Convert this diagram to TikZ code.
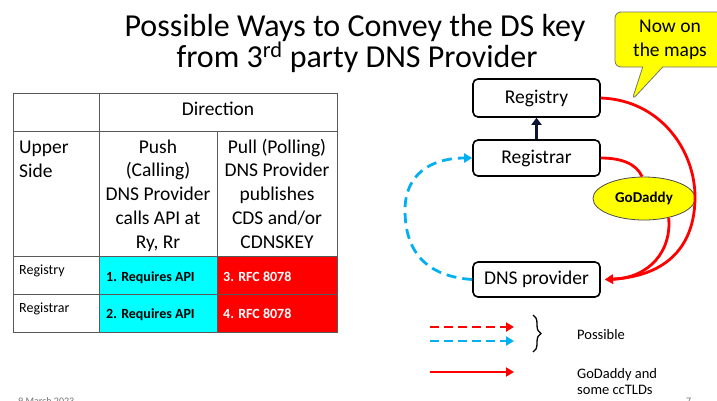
\documentclass[tikz,border=0pt]{standalone}
\usepackage{fontspec}
\setmainfont{Carlito}
\usetikzlibrary{arrows.meta,shapes.geometric,shapes.callouts,decorations.pathreplacing}
\definecolor{skyb}{RGB}{0,176,240}
\definecolor{navyc}{RGB}{12,22,50}
\definecolor{cyanc}{RGB}{0,255,255}
\definecolor{redc}{RGB}{255,0,0}
\definecolor{yelc}{RGB}{255,255,0}
\tikzset{
  titlef/.style={font=\fontsize{32}{34}\selectfont, inner sep=0},
  big/.style={font=\fontsize{19.5}{23.7}\selectfont, inner sep=0},
  sm/.style={font=\fontsize{14}{16}\selectfont, inner sep=0},
  smb/.style={font=\bfseries\fontsize{14}{16}\selectfont, inner sep=0},
  tline/.style={draw=black!65, line width=0.9pt},
  rbox/.style={draw, line width=1.6pt, rounded corners=5pt, minimum width=127pt, inner sep=0, font=\fontsize{19.5}{22}\selectfont},
  redline/.style={draw=redc, line width=2.8pt},
  bluedash/.style={draw=skyb, line width=2.8pt, dash pattern=on 10pt off 6pt},
  reddash/.style={draw=redc, line width=2.8pt, dash pattern=on 9pt off 5pt},
  tip/.style={-{Triangle[length=8pt,width=9pt]}},
  leg/.style={font=\fontsize{14.5}{16}\selectfont, inner sep=0},
}
\begin{document}
\begin{tikzpicture}[x=1pt,y=-1pt]
\useasboundingbox (0,0) rectangle (717,400);
\clip (0,0) rectangle (717,400);
\fill[white] (0,0) rectangle (717,400);

% title
\node[titlef, anchor=base] (t1) at (355,36) {Possible Ways to Convey the DS key};
\node[titlef, anchor=base] (t2) at (357,67) {from 3\textsuperscript{rd} party DNS Provider};

% table
\fill[cyanc] (99,256) rectangle (217,332);
\fill[redc] (217,256) rectangle (337,332);
\draw[tline] (13,93) rectangle (337,332);
\draw[tline] (99,93) -- (99,332);
\draw[tline] (217,131) -- (217,332);
\draw[tline] (13,131) -- (337,131);
\draw[tline] (13,256) -- (337,256);
\draw[tline] (13,294) -- (337,294);

\node[big, anchor=base] (dir) at (218,115) {Direction};
\node[big, anchor=base west, align=left] (upper) at (19,177) {Upper\\Side};
\node[big, anchor=base, align=center] (push) at (158,248) {Push\\(Calling)\\DNS Provider\\calls API at\\Ry, Rr};
\node[big, anchor=base, align=center] (pull) at (277,248) {Pull (Polling)\\DNS Provider\\publishes\\CDS and/or\\CDNSKEY};

\node[sm, anchor=base west] (c1) at (19,274) {Registry};
\node[sm, anchor=base west] (c2) at (19,312) {Registrar};
\node[smb, anchor=base west] (c3) at (106,281) {1. Requires API};
\node[smb, anchor=base west] (c4) at (106,318) {2. Requires API};
\node[smb, anchor=base west, text=white] (c5) at (223,281) {3. RFC 8078};
\node[smb, anchor=base west, text=white] (c6) at (223,318) {4. RFC 8078};

% diagram
\node[rbox, minimum height=38pt] (ry) at (536.5,98) {Registry};
\node[rbox, minimum height=36pt] (rr) at (536.5,158) {Registrar};
\node[rbox, minimum height=35pt] (dns) at (536.5,279.5) {DNS provider};
\node[ellipse, draw=black!70, line width=0.8pt, fill=yelc, minimum width=102pt, minimum height=43pt, inner sep=0, font=\bfseries\fontsize{15}{17}\selectfont] (gd) at (644,198.5) {GoDaddy};

\draw[line width=3pt, draw=navyc, -{Triangle[length=7pt,width=10pt]}] (rr.north) -- (ry.south);

\coordinate (dnsin) at (605,279.5);
\draw[redline, tip] (ry.east) .. controls (660,100) and (695,150) .. (695,197) .. controls (695,245) and (668,276) .. (dnsin);
\draw[redline] (rr.east) .. controls (620,158) and (636,163) .. (gd.95);
\draw[redline, tip] (gd.-38) .. controls (672,250) and (650,278) .. (dnsin);

\draw[bluedash, tip] (dns.west) .. controls (420,276) and (405,245) .. (405,210) .. controls (405,175) and (430,158) .. (rr.west);

% callout
\node[rectangle callout, draw=black!55, fill=yelc, line width=0.8pt, rounded corners=6pt, minimum width=110pt, minimum height=55pt, callout absolute pointer={(632,100)}, callout pointer width=20pt, align=center, inner sep=0, font=\fontsize{19.5}{24}\selectfont] (note) at (670,39.5) {Now on\\the maps};

% legend
\coordinate (l1a) at (430,327); \coordinate (l1b) at (514,327);
\coordinate (l2a) at (430,341); \coordinate (l2b) at (514,341);
\coordinate (l3a) at (430,372); \coordinate (l3b) at (514,372);
\draw[reddash, tip] (l1a) -- (l1b);
\draw[bluedash, dash pattern=on 9pt off 5pt, tip] (l2a) -- (l2b);
\draw[redline, tip] (l3a) -- (l3b);
\coordinate (b1) at (533,315); \coordinate (b2) at (533,352);
\draw[decorate, decoration={brace, amplitude=8pt}, line width=1.3pt] (b1) -- (b2);
\node[leg, anchor=base west] (poss) at (577,339) {Possible};
\node[leg, anchor=base west, align=left] (gdt) at (577,394) {GoDaddy and\\some ccTLDs};

% footer
\node[font=\fontsize{10}{12}\selectfont, text=black!55, anchor=base west, inner sep=0] (date) at (18,404) {9 March 2023};
\node[font=\fontsize{10}{12}\selectfont, text=black!55, anchor=base west, inner sep=0] (pg) at (686,404) {7};
\end{tikzpicture}
\end{document}
